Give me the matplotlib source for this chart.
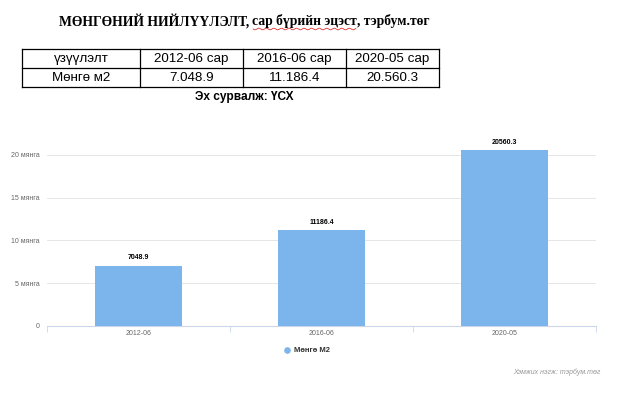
import numpy as np
import matplotlib
matplotlib.use("Agg")
import matplotlib.pyplot as plt

# ---- data ----
categories = ["2012-06", "2016-06", "2020-05"]
values = [7048.9, 11186.4, 20560.3]
value_labels = ["7048.9", "11186.4", "20560.3"]
yticks = [0, 5000, 10000, 15000, 20000]
ytick_labels = ["0", "5 мянга", "10 мянга", "15 мянга", "20 мянга"]
series_name = "Мөнгө М2"

table_header = ["үзүүлэлт", "2012-06 сар", "2016-06 сар", "2020-05 сар"]
table_row = ["Мөнгө м2", "7.048.9", "11.186.4", "20.560.3"]

title_main = "МӨНГӨНИЙ НИЙЛҮҮЛЭЛТ, "
title_under = "сар бүрийн эцэст"
title_tail = ", тэрбум.төг"
source_text = "Эх сурвалж: ҮСХ"
unit_note = "Хэмжих нэгж: тэрбум.төг"

plt.rcParams["font.family"] = ["Liberation Sans", "DejaVu Sans"]

W, H = 640, 396
fig = plt.figure(figsize=(6.4, 3.96), dpi=100)
fig.patch.set_facecolor("white")

# overlay axes in pixel coordinates for title/table
ov = fig.add_axes([0, 0, 1, 1])
ov.set_xlim(0, W)
ov.set_ylim(H, 0)
ov.axis("off")

# Title (three pieces, middle underlined with red squiggle)
serif = "Liberation Serif"
tfs = 9.8
renderer = fig.canvas.get_renderer()
pieces = [title_main, title_under, title_tail]
widths = []
for p in pieces:
    t = ov.text(0, 0, p, fontsize=tfs, fontweight="bold", family=serif)
    bb = t.get_window_extent(renderer=renderer)
    widths.append(bb.width)
    t.remove()
total = sum(widths)
x0 = 244 - total / 2
ty = 21
xs = []
cx = x0
for p, w in zip(pieces, widths):
    ov.text(cx, ty, p, fontsize=tfs, fontweight="bold", family=serif,
            va="center", ha="left", color="black")
    xs.append(cx)
    cx += w
# squiggle under middle piece
sx = np.linspace(xs[1] + 1, xs[1] + widths[1] - 1, 200)
sy = 29.0 + 0.8 * np.sin((sx - sx[0]) / 1.2)
ov.plot(sx, sy, color="#e03030", lw=0.6)

# Table
col_edges = [22, 140, 243, 346, 439]
row_edges = [49, 68, 87]
for y in row_edges:
    ov.plot([col_edges[0], col_edges[-1]], [y, y], color="black", lw=0.9)
for x in col_edges:
    ov.plot([x, x], [row_edges[0], row_edges[-1]], color="black", lw=0.9)
for i in range(4):
    cxm = (col_edges[i] + col_edges[i + 1]) / 2
    ov.text(cxm, (row_edges[0] + row_edges[1]) / 2 + 0.5, table_header[i],
            ha="center", va="center", fontsize=9.6, family="Liberation Sans")
    ov.text(cxm, (row_edges[1] + row_edges[2]) / 2 + 0.5, table_row[i],
            ha="center", va="center", fontsize=9.6, family="Liberation Sans")
ov.text(244, 97, source_text, ha="center", va="center", fontsize=8.6,
        fontweight="bold", family="Liberation Sans")

# Chart axes
left, right = 46.7, 596
base_y = 326
px_per_unit = 42.83 / 5000
ymax = 22000
top_y = base_y - ymax * px_per_unit
ax = fig.add_axes([left / W, (H - base_y) / H, (right - left) / W, (base_y - top_y) / H])
ax.set_facecolor("none")
x = np.arange(len(categories))
ax.bar(x, values, width=0.475, color="#7cb5ec", zorder=3)
ax.set_xlim(-0.5, len(categories) - 0.5)
ax.set_ylim(0, ymax)
ax.set_yticks(yticks)
ax.set_yticklabels(ytick_labels)
ax.set_xticks(x)
ax.set_xticklabels(categories)
for s in ["top", "right", "left"]:
    ax.spines[s].set_visible(False)
ax.spines["bottom"].set_color("#ccd6eb")
ax.spines["bottom"].set_linewidth(0.8)
ax.grid(axis="y", color="#e6e6e6", lw=0.7, zorder=0)
ax.tick_params(axis="y", length=0, pad=5, labelsize=5, labelcolor="#666666")
ax.tick_params(axis="x", length=0, pad=3, labelsize=5, labelcolor="#666666")
ax.set_xticks(np.arange(-0.5, len(categories), 1.0), minor=True)
ax.tick_params(axis="x", which="minor", length=4, color="#ccd6eb", width=0.6)
for xi, v, lab in zip(x, values, value_labels):
    ax.annotate(lab, (xi, v), xytext=(0, 3), textcoords="offset points",
                ha="center", va="bottom", fontsize=5, fontweight="bold", color="black")

# Legend
ov.scatter([287], [350], s=14, color="#7cb5ec", zorder=4)
ov.text(294, 350.5, series_name, ha="left", va="center", fontsize=5.5,
        fontweight="bold", color="#333333")
ov.text(601, 372, unit_note, ha="right", va="center", fontsize=5,
        style="italic", color="#999999")

fig.savefig("out.png", dpi=100)
